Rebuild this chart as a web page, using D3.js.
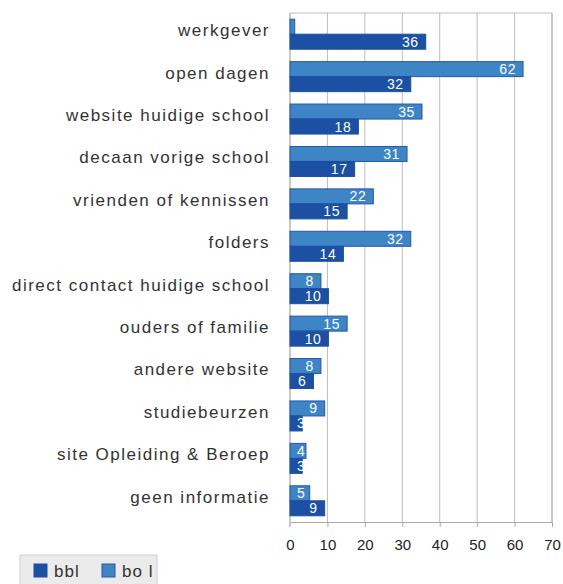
<!DOCTYPE html>
<html lang="nl">
<head>
<meta charset="utf-8">
<script src="https://cdn.jsdelivr.net/npm/d3@7"></script>
<style>
  body { margin: 0; background: #fff; }
  svg { font-family: "Liberation Sans", Arial, sans-serif; }
</style>
</head>
<body>
<svg id="chart" width="563" height="584"></svg>
<script>
// data
const categories = [
  "werkgever", "open dagen", "website huidige school", "decaan vorige school",
  "vrienden of kennissen", "folders", "direct contact huidige school",
  "ouders of familie", "andere website", "studiebeurzen",
  "site Opleiding & Beroep", "geen informatie"
];
const bolValues = [1, 62, 35, 31, 22, 32, 8, 15, 8, 9, 4, 5];
const bblValues = [36, 32, 18, 17, 15, 14, 10, 10, 6, 3, 3, 9];
const xTicks = [0, 10, 20, 30, 40, 50, 60, 70];
const seriesNames = ["bbl", "bol"];

(function () {
const colBbl = "#1c50a2", colBol = "#3e85c6", colBolEdge = "#2458a8";

const svg = d3.select("#chart");
const plotL = 290, plotR = 552, plotT = 13, plotB = 522;

const x = d3.scaleLinear().domain([0, 70]).range([plotL, plotR]);
const y = d3.scaleBand().domain(categories).range([plotT, plotB]);
const barH = 15;

// grid
svg.append("g").selectAll("line")
  .data(xTicks.slice(1))
  .join("line")
    .attr("x1", d => x(d)).attr("x2", d => x(d))
    .attr("y1", plotT).attr("y2", plotB)
    .attr("stroke", "#bdbdbd").attr("stroke-width", 1);
svg.append("line").attr("x1", plotL).attr("x2", plotR).attr("y1", plotT).attr("y2", plotT)
  .attr("stroke", "#bdbdbd");
svg.append("line").attr("x1", plotR).attr("x2", plotR).attr("y1", plotT).attr("y2", plotB)
  .attr("stroke", "#c8c8c8").attr("stroke-width", 2);

// x axis
const xAxis = svg.append("g")
  .attr("transform", `translate(0,${plotB})`)
  .call(d3.axisBottom(x).tickValues(xTicks).tickSize(5).tickPadding(12));
xAxis.select(".domain").attr("stroke", "#aaa");
xAxis.selectAll(".tick line").attr("stroke", "#aaa");
xAxis.selectAll("text").attr("font-size", 15).attr("fill", "#222")
  .attr("font-family", "Liberation Sans, Arial, sans-serif");

// left axis line
svg.append("line").attr("x1", plotL).attr("x2", plotL).attr("y1", plotT).attr("y2", plotB + 5)
  .attr("stroke", "#c8c8c8").attr("stroke-width", 2);

// category labels
svg.append("g").selectAll("text")
  .data(categories)
  .join("text")
    .attr("x", 270)
    .attr("y", d => y(d) + y.bandwidth() / 2 - 4)
    .attr("dy", "0.35em")
    .attr("text-anchor", "end")
    .attr("font-size", 17)
    .attr("letter-spacing", 1.5)
    .attr("fill", "#333")
    .text(d => d);

// bars
function drawSeries(vals, offset, fill, edge) {
  const g = svg.append("g");
  g.selectAll("rect")
    .data(categories)
    .join("rect")
      .attr("x", x(0))
      .attr("y", d => y(d) + y.bandwidth() / 2 + offset)
      .attr("width", (d, i) => x(vals[i]) - x(0) + 1)
      .attr("height", barH)
      .attr("fill", fill)
      .attr("stroke", edge)
      .attr("stroke-width", 1);
  const lab = categories.map((c, i) => ({ c, v: vals[i] })).filter(d => d.v >= 2);
  g.selectAll("text")
    .data(lab)
    .join("text")
      .attr("x", d => x(d.v) - 6 < x(0) + 16 ? x(0) + 7 : x(d.v) - 6)
      .attr("text-anchor", d => x(d.v) - 6 < x(0) + 16 ? "start" : "end")
      .attr("y", d => y(d.c) + y.bandwidth() / 2 + offset + barH / 2)
      .attr("dy", "0.36em")
      .attr("font-size", 14)
      .attr("letter-spacing", 0.6)
      .attr("fill", "#fff")
      .text(d => d.v);
}
drawSeries(bolValues, -barH, colBol, colBolEdge);
drawSeries(bblValues, 0, colBbl, colBbl);

// legend
const lg = svg.append("g").attr("transform", "translate(20,555)");
lg.append("rect").attr("width", 137).attr("height", 30)
  .attr("fill", "#ebebeb").attr("stroke", "#cfcfcf");
const items = lg.selectAll("g.item")
  .data(seriesNames)
  .join("g")
    .attr("transform", (d, i) => `translate(${14 + i * 68},9)`);
items.append("rect").attr("width", 13).attr("height", 13)
  .attr("fill", d => d === "bbl" ? colBbl : colBol)
  .attr("stroke", d => d === "bbl" ? colBbl : colBolEdge);
items.append("text").attr("x", 20).attr("y", 7).attr("dy", "0.36em")
  .attr("font-size", 17).attr("letter-spacing", 1).attr("fill", "#333")
  .text(d => d === "bol" ? "bo l" : d);
})();
</script>
</body>
</html>
